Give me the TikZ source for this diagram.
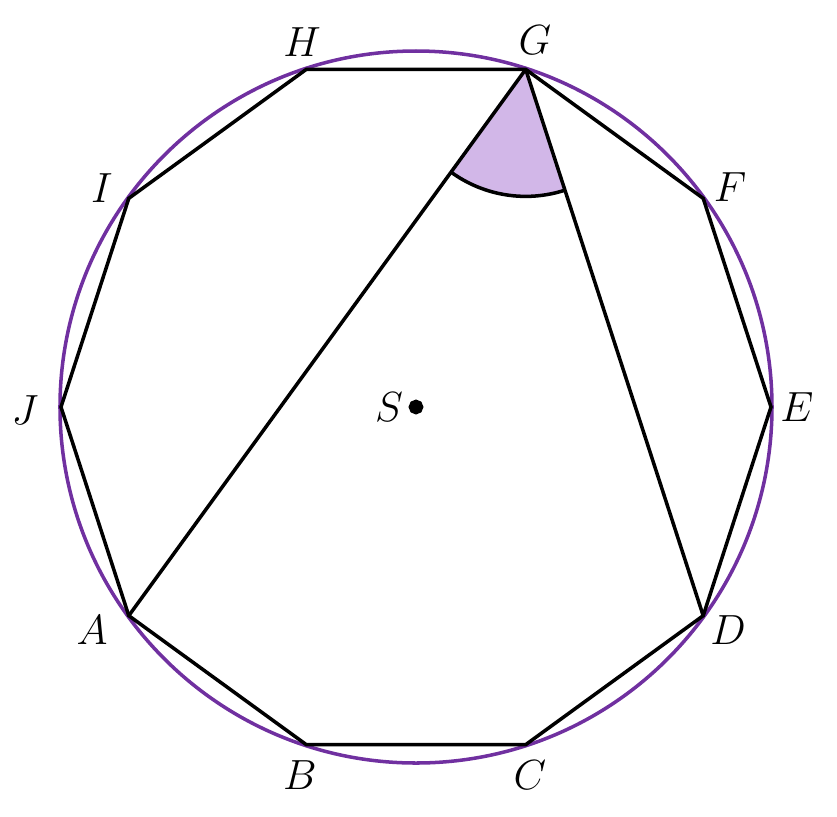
\documentclass[tikz,border=0pt]{standalone}
\usepackage{amsmath}

\definecolor{ringpurple}{RGB}{112,48,160}
\definecolor{anglefill}{RGB}{210,183,232}

\begin{document}
\begin{tikzpicture}[line width=1pt, font=\fontsize{12.5}{14}\selectfont,
  lab/.style={inner sep=0pt}]
\useasboundingbox (-4.16,-4.09) rectangle (4.21,4.07);

%center and vertices of the decagon
\coordinate (S) at (0,0);
\coordinate (E) at (0:3.55);
\coordinate (F) at (36:3.55);
\coordinate (G) at (72:3.55);
\coordinate (H) at (108:3.55);
\coordinate (I) at (144:3.55);
\coordinate (J) at (180:3.55);
\coordinate (A) at (216:3.55);
\coordinate (B) at (252:3.55);
\coordinate (C) at (288:3.55);
\coordinate (D) at (324:3.55);

%angle AGD shaded first
\fill [anglefill] (G) -- ++(234:1.27) arc (234:288:1.27) -- cycle;
\draw (G) ++(234:1.27) arc (234:288:1.27);

\draw [ringpurple] (S) circle (3.56);
\draw (A) -- (B) -- (C) -- (D) -- (E) -- (F) -- (G) -- (H) -- (I) -- (J) -- cycle;
\draw (G) -- (A);
\draw (G) -- (D);

\filldraw (S) circle (1.6pt);

%labels
\node [lab] at (-0.27,0) {$S$};
\node [lab] at (-3.24,-2.23) {$A$};
\node [lab] at (-1.16,-3.68) {$B$};
\node [lab] at (1.14,-3.68) {$C$};
\node [lab] at (3.12,-2.23) {$D$};
\node [lab] at (3.81,0) {$E$};
\node [lab] at (3.14,2.2) {$F$};
\node [lab] at (1.19,3.67) {$G$};
\node [lab] at (-1.14,3.65) {$H$};
\node [lab] at (-3.14,2.19) {$I$};
\node [lab] at (-3.91,-0.03) {$J$};
\end{tikzpicture}
\end{document}
